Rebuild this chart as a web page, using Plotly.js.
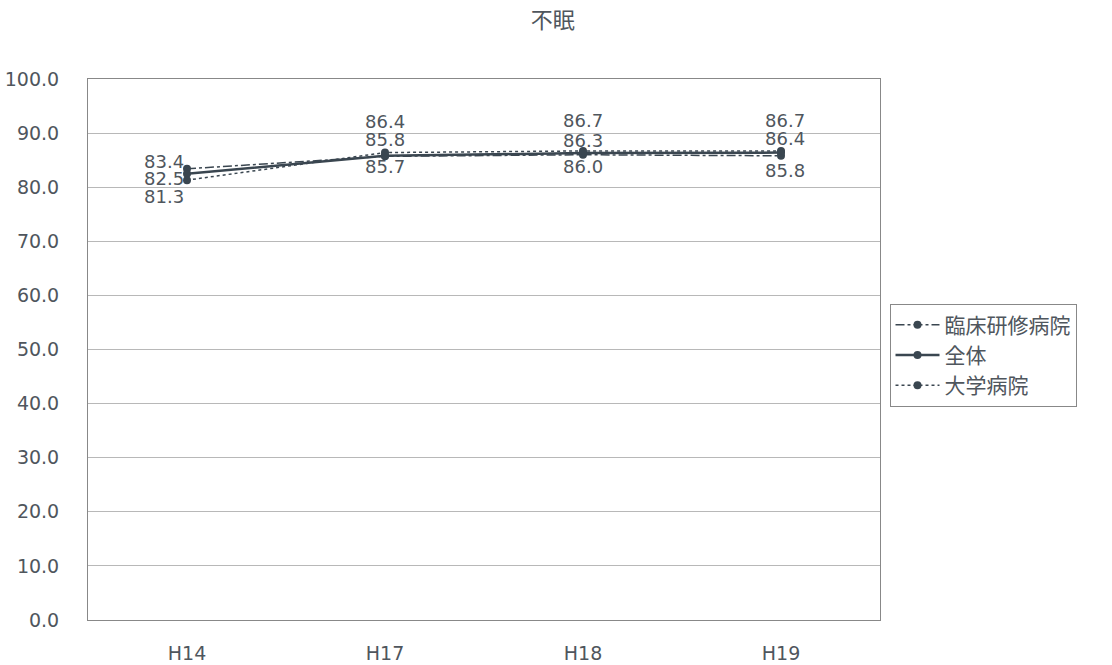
<!DOCTYPE html>
<html><head><meta charset="utf-8">
<script src="https://cdn.plot.ly/plotly-3.0.1.min.js"></script>
<style>body{margin:0;background:#fff}#c{width:1112px;height:665px}</style>
</head><body><div id="c"></div>
<script>
const categories = ["H14", "H17", "H18", "H19"];
const seriesNames = ["臨床研修病院", "全体", "大学病院"];
const rinsho = [83.4, 85.7, 86.0, 85.8];
const zentai = [82.5, 85.8, 86.3, 86.4];
const daigaku = [81.3, 86.4, 86.7, 86.7];
const values = [rinsho, zentai, daigaku];

const lineColor = "#3a4650";
const textColor = "#4f565d";
const dashes = ["dashdot", "solid", "dot"];
const widths = [1.5, 2.5, 1.5];
// label offsets (px) per series per point
const yShifts = [[7, -10, -12, -15], [-5, 16, 13, 14], [-16, 31, 30, 30]];
const xShifts = [[-23, 0, 0, 4], [-23, 0, 0, 4], [-23, 0, 0, 4]];

const numFont = "'DejaVu Sans', sans-serif";
const jpFont = "'Noto Sans CJK JP', sans-serif";
const traces = values.map((v, i) => ({
  type: "scatter", mode: "lines+markers", name: seriesNames[i],
  x: categories, y: v,
  line: {color: lineColor, width: widths[i], dash: dashes[i]},
  marker: {color: lineColor, size: 8, symbol: "circle"}
}));

const annotations = [];
values.forEach((v, i) => {
  v.forEach((val, j) => {
    annotations.push({x: categories[j], y: val, xref: "x", yref: "y",
      text: val.toFixed(1), showarrow: false,
      xshift: xShifts[i][j], yshift: yShifts[i][j],
      font: {family: numFont, size: 18, color: textColor}});
  });
});

const layout = {
  width: 1112, height: 665,
  margin: {l: 88, r: 232, t: 79, b: 45},
  paper_bgcolor: "#fff", plot_bgcolor: "#fff",
  title: {text: "不眠", x: 0.497, xanchor: "center", y: 0.97, yanchor: "middle",
    font: {family: jpFont, size: 22, color: textColor}},
  showlegend: true,
  legend: {x: 1.012, xanchor: "left", y: 0.585, yanchor: "top",
    bordercolor: "#888", borderwidth: 1, bgcolor: "#fff",
    font: {family: jpFont, size: 21, color: textColor}, traceorder: "normal",
    tracegroupgap: 0, itemwidth: 44},
  xaxis: {type: "category", range: [-0.5, 3.5], showgrid: false, zeroline: false,
    showline: true, linecolor: "#888", linewidth: 1, mirror: true, ticks: "",
    ticklabelstandoff: 16,
    tickfont: {family: numFont, size: 19, color: textColor}},
  yaxis: {range: [0, 100], dtick: 10, tickformat: ".1f", showgrid: true,
    gridcolor: "#b8b8b8", gridwidth: 1, zeroline: false,
    showline: true, linecolor: "#888", linewidth: 1, mirror: true, ticks: "",
    ticklabelstandoff: 24,
    tickfont: {family: numFont, size: 19, color: textColor}},
  annotations: annotations
};
Plotly.newPlot("c", traces, layout, {displayModeBar: false});
</script></body></html>
